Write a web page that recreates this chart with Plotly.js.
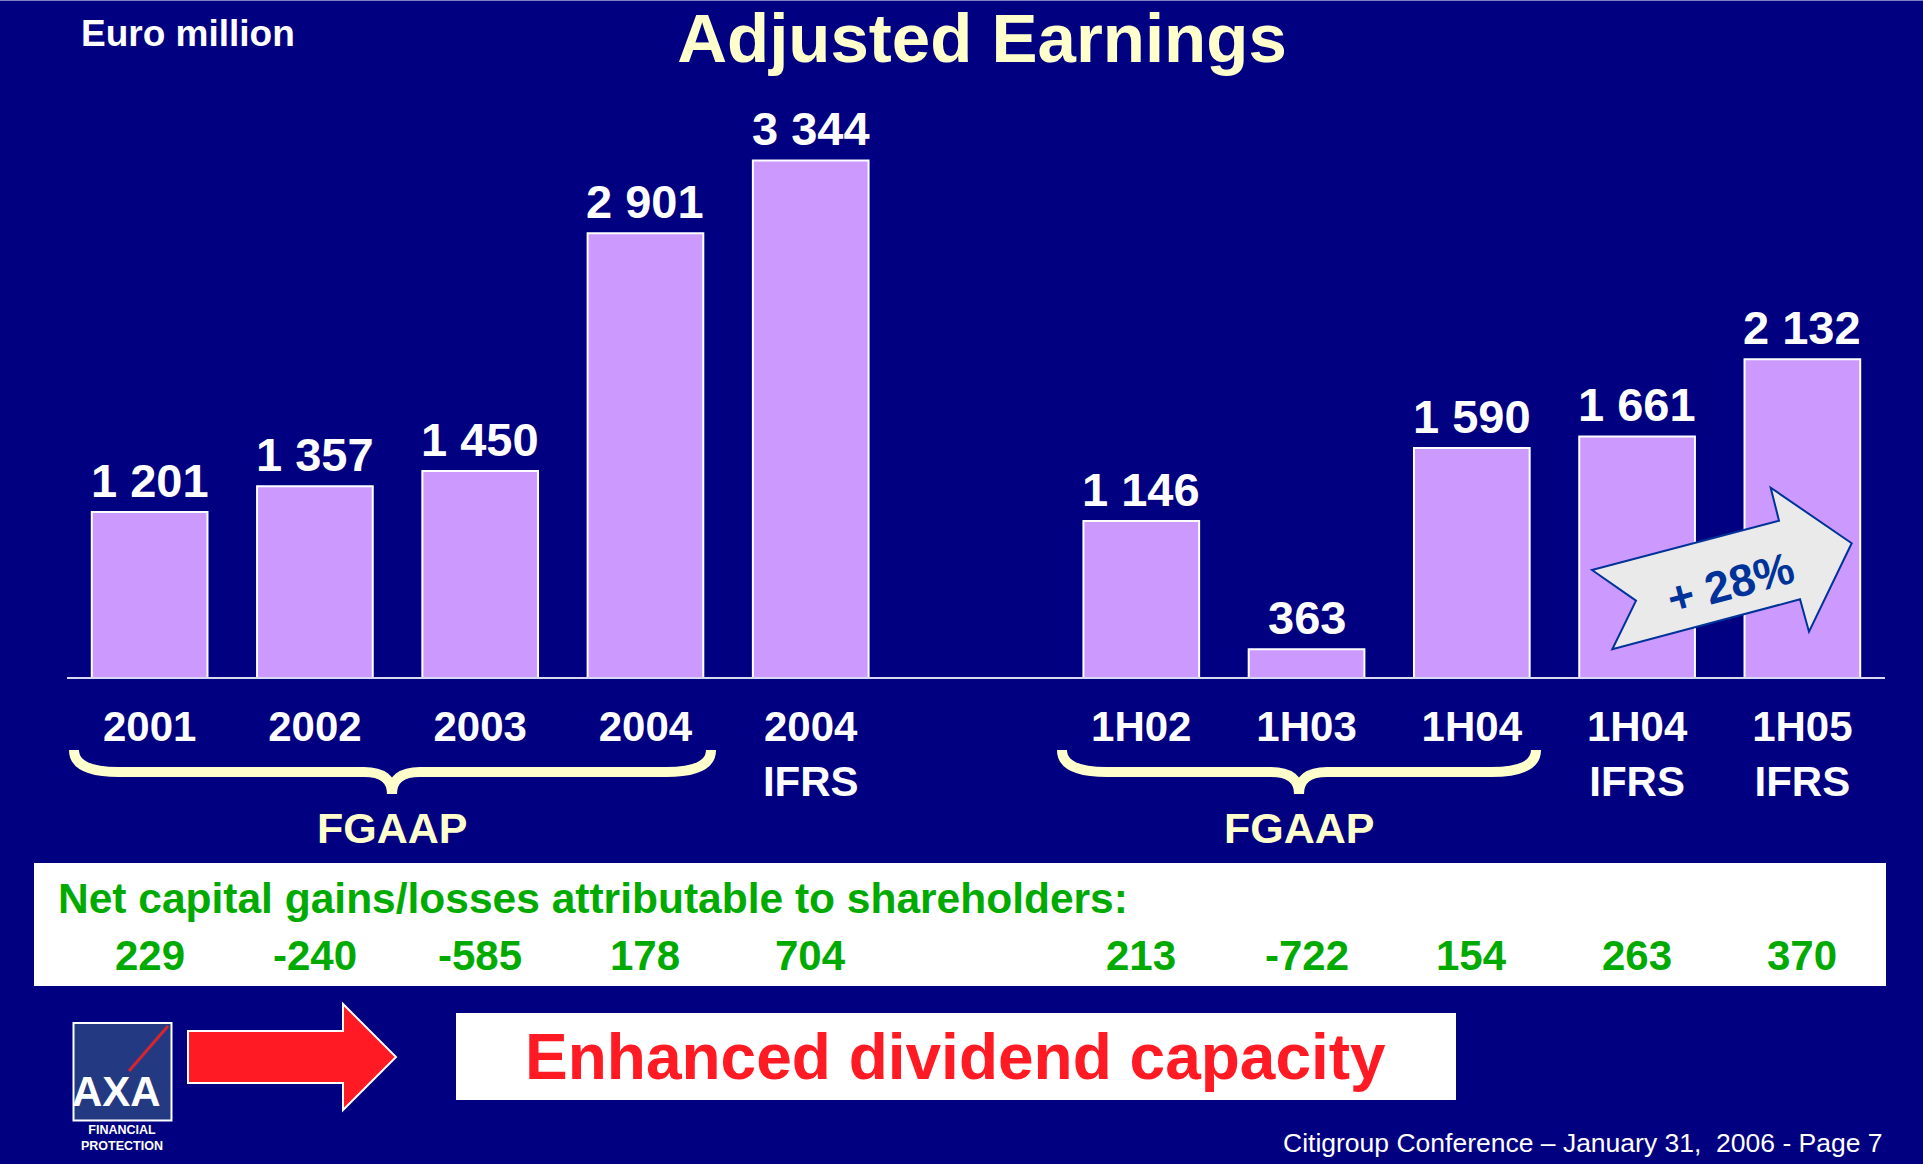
<!DOCTYPE html>
<html>
<head>
<meta charset="utf-8">
<script src="https://cdn.plot.ly/plotly-3.0.1.min.js"></script>
<style>
  html, body { margin: 0; padding: 0; background: #000080; }
  #chart { width: 1923px; height: 1164px; }
</style>
</head>
<body>
<div id="chart"></div>
<script>
// ---- data ----
const periods = ['2001', '2002', '2003', '2004', '2004<br>IFRS', '', '1H02', '1H03', '1H04', '1H04<br>IFRS', '1H05<br>IFRS'];
const adjustedEarnings = [1201, 1357, 1450, 2901, 3344, null, 1146, 363, 1590, 1661, 2132];
const netCapitalGains = [229, -240, -585, 178, 704, null, 213, -722, 154, 263, 370];
const groupLabels = ['FGAAP', 'FGAAP'];
const growthLabel = '+ 28%';

// ---- helpers ----
const FONT = 'Liberation Sans, Arial, Helvetica, sans-serif';
const L = 67, R = 1885, T = 100, B = 677, FW = 1923, FH = 1164;
const X = px => (px - L) / (R - L);
const Y = py => (B - py) / (B - T);
const fmt = v => String(v).replace(/\B(?=(\d{3})+(?!\d))/g, ' ');
const xs = periods.map((_, i) => i);
const P = (x, y) => X(x).toFixed(5) + ',' + Y(y).toFixed(5);

function bracePath(x0, x1, xc, yTop, yMid, yTip) {
  return 'M' + P(x0, yTop) +
    ' Q' + P(x0, yMid) + ' ' + P(x0 + 45, yMid) +
    ' L' + P(xc - 28, yMid) +
    ' Q' + P(xc, yMid) + ' ' + P(xc, yTip) +
    ' Q' + P(xc, yMid) + ' ' + P(xc + 28, yMid) +
    ' L' + P(x1 - 45, yMid) +
    ' Q' + P(x1, yMid) + ' ' + P(x1, yTop);
}
function polyPath(pts) {
  return 'M' + pts.map(p => P(p[0], p[1])).join(' L') + ' Z';
}

const barIdx = xs.filter(i => adjustedEarnings[i] !== null);

const trace = {
  type: 'bar',
  x: barIdx,
  y: barIdx.map(i => adjustedEarnings[i]),
  width: 0.70,
  marker: { color: '#CC99FF', line: { color: '#FFFFFF', width: 2 } },
  hoverinfo: 'skip'
};

const annotations = [];
// value labels above bars
barIdx.forEach(i => {
  annotations.push({
    x: i, y: adjustedEarnings[i], xref: 'x', yref: 'y',
    text: fmt(adjustedEarnings[i]), showarrow: false,
    xanchor: 'center', yanchor: 'bottom', yshift: 3,
    font: { family: FONT, size: 47, color: '#FFFFFF', weight: 700 }
  });
});
// net capital gains row
xs.forEach(i => {
  if (netCapitalGains[i] === null) return;
  annotations.push({
    x: i, y: Y(955), xref: 'x', yref: 'paper',
    text: String(netCapitalGains[i]), showarrow: false,
    xanchor: 'center', yanchor: 'middle',
    font: { family: FONT, size: 42, color: '#00AA00', weight: 700 }
  });
});
annotations.push(
  { x: X(56), y: Y(899), xref: 'paper', yref: 'paper', xanchor: 'left', yanchor: 'middle',
    text: 'Net capital gains/losses attributable to shareholders:', showarrow: false,
    font: { family: FONT, size: 42.5, color: '#00AA00', weight: 700 } },
  { x: X(392), y: Y(828), xref: 'paper', yref: 'paper', xanchor: 'center', yanchor: 'middle',
    text: groupLabels[0], showarrow: false,
    font: { family: FONT, size: 43, color: '#FFFFCC', weight: 700 } },
  { x: X(1299), y: Y(828), xref: 'paper', yref: 'paper', xanchor: 'center', yanchor: 'middle',
    text: groupLabels[1], showarrow: false,
    font: { family: FONT, size: 43, color: '#FFFFCC', weight: 700 } },
  { x: X(79), y: Y(33), xref: 'paper', yref: 'paper', xanchor: 'left', yanchor: 'middle',
    text: 'Euro million', showarrow: false,
    font: { family: FONT, size: 37, color: '#FFFFFF', weight: 700 } },
  { x: X(1730), y: Y(583), xref: 'paper', yref: 'paper', xanchor: 'center', yanchor: 'middle',
    text: growthLabel, textangle: -15, showarrow: false,
    font: { family: FONT, size: 45, color: '#003399', weight: 700 } },
  { x: X(955), y: Y(1057), xref: 'paper', yref: 'paper', xanchor: 'center', yanchor: 'middle',
    text: 'Enhanced dividend capacity', showarrow: false,
    font: { family: FONT, size: 64, color: '#FF1A24', weight: 700 } },
  { x: X(1885), y: Y(1143), xref: 'paper', yref: 'paper', xanchor: 'right', yanchor: 'middle',
    text: 'Citigroup Conference \u2013 January 31,\u00A0 2006 - Page 7', showarrow: false,
    font: { family: FONT, size: 26.5, color: '#FFFFFF' } },
  { x: X(116), y: Y(1091), xref: 'paper', yref: 'paper', xanchor: 'center', yanchor: 'middle',
    text: 'AXA', showarrow: false,
    font: { family: 'Liberation Sans Narrow, Arial Narrow, ' + FONT, size: 42, color: '#FFFFFF', weight: 700 } },
  { x: X(122), y: Y(1138), xref: 'paper', yref: 'paper', xanchor: 'center', yanchor: 'middle',
    text: 'FINANCIAL<br>PROTECTION', showarrow: false,
    font: { family: FONT, size: 12.5, color: '#FFFFFF', weight: 700 } }
);

const shapes = [
  // top edge line
  { type: 'line', xref: 'paper', yref: 'paper', x0: X(0), x1: X(FW), y0: Y(0.5), y1: Y(0.5),
    line: { color: '#8080C8', width: 1 } },
  // braces
  { type: 'path', xref: 'paper', yref: 'paper', path: bracePath(74, 711, 392, 750, 772, 794),
    line: { color: '#FFFFCC', width: 10 } },
  { type: 'path', xref: 'paper', yref: 'paper', path: bracePath(1062, 1536, 1299, 750, 772, 794),
    line: { color: '#FFFFCC', width: 10 } },
  // white box for capital gains
  { type: 'rect', xref: 'paper', yref: 'paper', x0: X(34), x1: X(1886), y0: Y(863), y1: Y(986),
    fillcolor: '#FFFFFF', line: { width: 0 }, layer: 'below' },
  // +28% arrow
  { type: 'path', xref: 'paper', yref: 'paper',
    path: polyPath([[1592, 570], [1779, 520.7], [1770.7, 487.7], [1851.7, 543.3], [1809, 631.7], [1800, 599.3], [1612.3, 649.3], [1636, 600.7]]),
    fillcolor: '#EAEAEA', line: { color: '#003399', width: 2 } },
  // AXA logo
  { type: 'rect', xref: 'paper', yref: 'paper', x0: X(73.5), x1: X(171.5), y0: Y(1023), y1: Y(1120.5),
    fillcolor: '#233A82', line: { color: '#FFFFFF', width: 2 } },
  { type: 'line', xref: 'paper', yref: 'paper', x0: X(168), y0: Y(1026), x1: X(129), y1: Y(1071),
    line: { color: '#D8242F', width: 3 } },
  // red arrow
  { type: 'path', xref: 'paper', yref: 'paper',
    path: polyPath([[188, 1031], [343, 1031], [343, 1004], [396, 1057], [343, 1110], [343, 1083], [188, 1083]]),
    fillcolor: '#FF1A24', line: { color: '#FFFFFF', width: 2 } },
  // white box "Enhanced dividend capacity"
  { type: 'rect', xref: 'paper', yref: 'paper', x0: X(456), x1: X(1456), y0: Y(1013), y1: Y(1100),
    fillcolor: '#FFFFFF', line: { width: 0 }, layer: 'below' }
];

const layout = {
  width: FW, height: FH,
  paper_bgcolor: '#000080', plot_bgcolor: '#000080',
  margin: { l: L, r: FW - R, t: T, b: FH - B, pad: 0 },
  showlegend: false,
  title: {
    text: 'Adjusted Earnings', xref: 'container', yref: 'container',
    x: 982 / FW, xanchor: 'center', y: 1 - 38 / FH, yanchor: 'middle',
    font: { family: FONT, size: 69, color: '#FFFFCC', weight: 700 }
  },
  xaxis: {
    range: [-0.5, 10.5], tickmode: 'array', tickvals: xs, ticktext: periods,
    showgrid: false, zeroline: false, showline: true, linecolor: '#D8D8F0', linewidth: 2,
    ticks: '', ticklabelstandoff: 12, fixedrange: true,
    tickfont: { family: FONT, size: 42, color: '#FFFFFF', weight: 700 }
  },
  yaxis: {
    range: [194, 194 + (B - T) / 0.16397], showgrid: false, zeroline: false,
    showline: false, showticklabels: false, ticks: '', fixedrange: true
  },
  bargap: 0.3,
  annotations: annotations,
  shapes: shapes
};

Plotly.newPlot('chart', [trace], layout, { displayModeBar: false, staticPlot: true });
</script>
</body>
</html>
